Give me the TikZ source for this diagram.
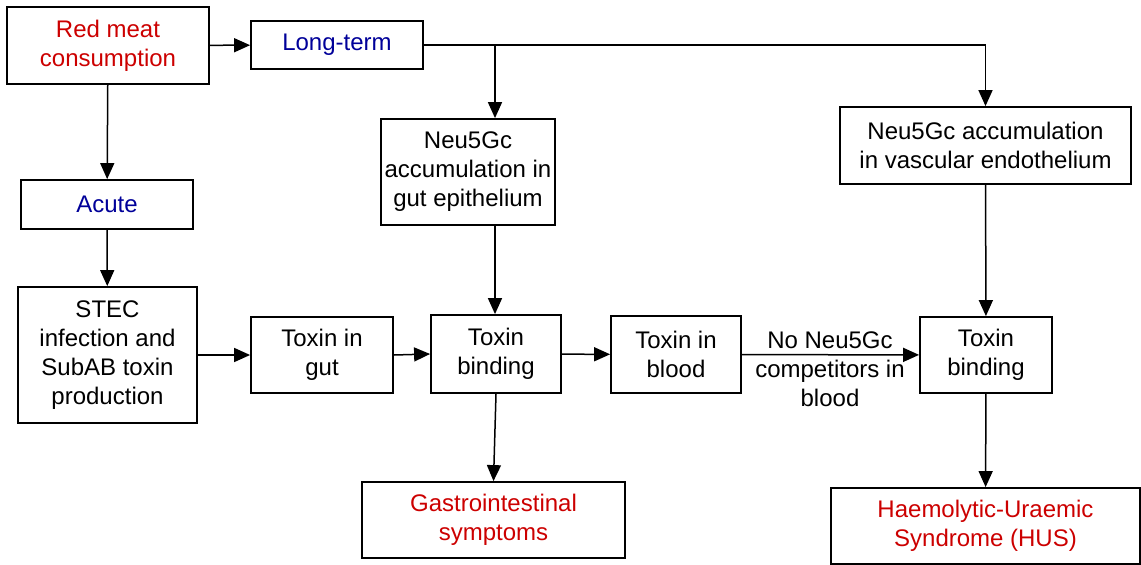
\documentclass[tikz,border=0pt]{standalone}
\usepackage{fontspec}
\setmainfont{Liberation Sans}
\usetikzlibrary{arrows.meta}
\definecolor{outred}{RGB}{204,0,0}
\definecolor{termblue}{RGB}{0,0,153}
\tikzset{
	box/.style={draw, line width=1.8pt, align=center, inner sep=0pt, font=\fontsize{24}{29}\selectfont},
	arr/.style={line width=1.5pt, -{Triangle[length=16pt,width=14pt]}}
}
\begin{document}
\begin{tikzpicture}[x=1pt,y=-1pt]
	\useasboundingbox (0,0) rectangle (1141,565);
	%top row
		\node[box, text=outred, minimum width=202pt, minimum height=77pt] (redmeat) at (108,45.5) {Red meat\\consumption};
		\node[box, text=termblue, minimum width=172pt, minimum height=48pt] (longterm) at (337,45) {Long-term};
	%accumulation boxes
		\node[box, minimum width=174pt, minimum height=106pt] (gutacc) at (468,172) {Neu5Gc\\accumulation in\\gut epithelium};
		\node[box, minimum width=291pt, minimum height=77pt] (vascacc) at (985.5,145.5) {Neu5Gc accumulation\\in vascular endothelium};
	%acute branch
		\node[box, text=termblue, minimum width=172pt, minimum height=49pt] (acute) at (107,204.5) {Acute};
		\node[box, minimum width=179pt, minimum height=136pt] (stec) at (107.5,355) {STEC\\infection and\\SubAB toxin\\production};
	%toxin row
		\node[box, minimum width=142pt, minimum height=76pt] (toxgut) at (322,355) {Toxin in\\gut};
		\node[box, minimum width=130pt, minimum height=78pt] (bindgut) at (496,354) {Toxin\\binding};
		\node[box, minimum width=130pt, minimum height=77pt] (toxblood) at (676,354.5) {Toxin in\\blood};
		\node[box, minimum width=132pt, minimum height=76pt] (bindvasc) at (986,355) {Toxin\\binding};
		\node[align=center, inner sep=0pt, font=\fontsize{24}{29}\selectfont] (competitors) at (830,369) {No Neu5Gc\\competitors in\\blood};
	%outcomes
		\node[box, text=outred, minimum width=263pt, minimum height=76pt] (gisympt) at (493.5,520) {Gastrointestinal\\symptoms};
		\node[box, text=outred, minimum width=309pt, minimum height=76pt] (hus) at (985.5,526) {Haemolytic-Uraemic\\Syndrome (HUS)};
	%arrows
		\coordinate (split) at (495,45);
		\draw[arr] (redmeat) -- (longterm);
		\draw[arr] (longterm.east) -| (vascacc.north);
		\draw[arr] (split) -- (split |- gutacc.north);
		\draw[arr] (redmeat) -- (acute);
		\draw[arr] (acute) -- (stec);
		\draw[arr] (stec) -- (toxgut);
		\draw[arr] (toxgut.east) -- (bindgut.west);
		\draw[arr] (bindgut) -- (toxblood);
		\draw[arr] (toxblood) -- (bindvasc);
		\draw[arr] (gutacc.south -| split) -- (split |- bindgut.north);
		\draw[arr] (bindgut.south) -- (gisympt.north);
		\draw[arr] (vascacc) -- (bindvasc);
		\draw[arr] (bindvasc) -- (hus);
\end{tikzpicture}
\end{document}
